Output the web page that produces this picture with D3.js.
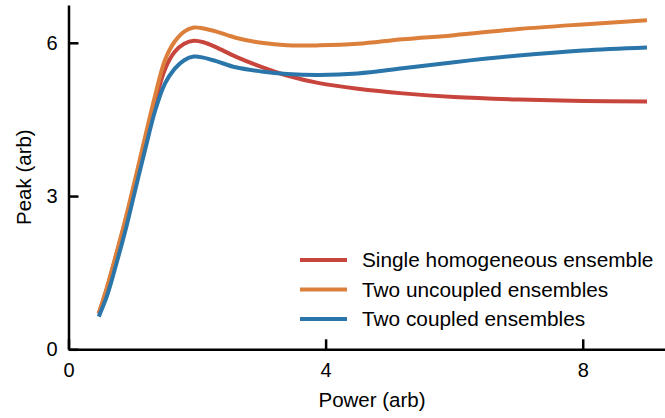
<!DOCTYPE html>
<html>
<head>
<meta charset="utf-8">
<script src="https://cdn.jsdelivr.net/npm/d3@7"></script>
<style>
  html, body { margin: 0; padding: 0; background: #fff; }
  svg { display: block; font-family: "Liberation Sans", Arial, sans-serif; }
</style>
</head>
<body>
<svg id="chart" width="665" height="418"></svg>
<script>
const power = [0.47, 0.6, 0.75, 0.9, 1.05, 1.2, 1.35, 1.5, 1.65, 1.8, 1.95, 2.1, 2.3, 2.6, 3.0, 3.4, 3.9, 4.5, 5.2, 6.0, 7.0, 8.0, 9.0];
const singleHomogeneous = [0.70, 1.2, 1.88, 2.58, 3.35, 4.12, 4.85, 5.48, 5.82, 5.98, 6.04, 6.01, 5.91, 5.73, 5.53, 5.36, 5.21, 5.1, 5.01, 4.94, 4.89, 4.86, 4.85];
const twoUncoupled = [0.70, 1.22, 1.9, 2.62, 3.4, 4.2, 4.98, 5.66, 6.02, 6.22, 6.30, 6.28, 6.22, 6.10, 6.00, 5.95, 5.95, 5.98, 6.07, 6.15, 6.27, 6.36, 6.44];
const twoCoupled = [0.64, 1.05, 1.7, 2.4, 3.18, 3.95, 4.68, 5.2, 5.49, 5.66, 5.73, 5.71, 5.64, 5.52, 5.44, 5.39, 5.37, 5.40, 5.5, 5.62, 5.75, 5.85, 5.91];
const seriesNames = ["Single homogeneous ensemble", "Two uncoupled ensembles", "Two coupled ensembles"];
const seriesColors = ["#c8453d", "#dc7f3b", "#2a75a9"];
const xTicks = [0, 4, 8];
const yTicks = [0, 3, 6];

const series = [singleHomogeneous, twoUncoupled, twoCoupled].map((vals, i) => ({
  name: seriesNames[i], color: seriesColors[i],
  points: power.map((p, j) => ({x: p, y: vals[j]}))
}));

const svg = d3.select("#chart");
const x = d3.scaleLinear().domain([0, 9.28]).range([68.5, 665]);
const y = d3.scaleLinear().domain([0, 6.74]).range([349.3, 5]);

const line = d3.line().x(d => x(d.x)).y(d => y(d.y)).curve(d3.curveCatmullRom.alpha(0.5));

// lines
svg.append("g").selectAll("path").data(series).join("path")
  .attr("d", d => line(d.points))
  .attr("fill", "none")
  .attr("stroke", d => d.color)
  .attr("stroke-width", 4)
  .attr("stroke-linejoin", "round");

// axes
const xAxis = svg.append("g").attr("transform", `translate(0,${y(0)})`)
  .call(d3.axisBottom(x).tickValues(xTicks).tickFormat(d3.format("d")).tickSizeInner(-10).tickSizeOuter(0).tickPadding(14));
const yAxis = svg.append("g").attr("transform", `translate(${x(0)},0)`)
  .call(d3.axisLeft(y).tickValues(yTicks).tickFormat(d3.format("d")).tickSizeInner(-10).tickSizeOuter(0).tickPadding(20));
[xAxis, yAxis].forEach(a => {
  a.select(".domain").attr("stroke", "#000").attr("stroke-width", 2.5);
  a.selectAll(".tick line").attr("stroke", "#000").attr("stroke-width", 2.5);
  a.selectAll(".tick text").attr("font-size", 20).attr("fill", "#000")
    .attr("font-family", "'Liberation Sans', Arial, sans-serif");
});
yAxis.selectAll(".tick text").attr("x", -11);

// axis titles
svg.append("text").attr("x", 372).attr("y", 407).attr("text-anchor", "middle")
  .attr("font-size", 20.5).text("Power (arb)");
svg.append("text").attr("transform", `translate(31,${(y(0) + 5) / 2}) rotate(-90)`)
  .attr("text-anchor", "middle").attr("font-size", 20.5).text("Peak (arb)");

// legend
const leg = svg.append("g").selectAll("g").data(series).join("g")
  .attr("transform", (d, i) => `translate(300,${260 + i * 29.5})`);
leg.append("line").attr("x1", 0).attr("x2", 47).attr("y1", 0).attr("y2", 0)
  .attr("stroke", d => d.color).attr("stroke-width", 4);
leg.append("text").attr("x", 62).attr("y", 7).attr("font-size", 20.8).text(d => d.name);
</script>
</body>
</html>
